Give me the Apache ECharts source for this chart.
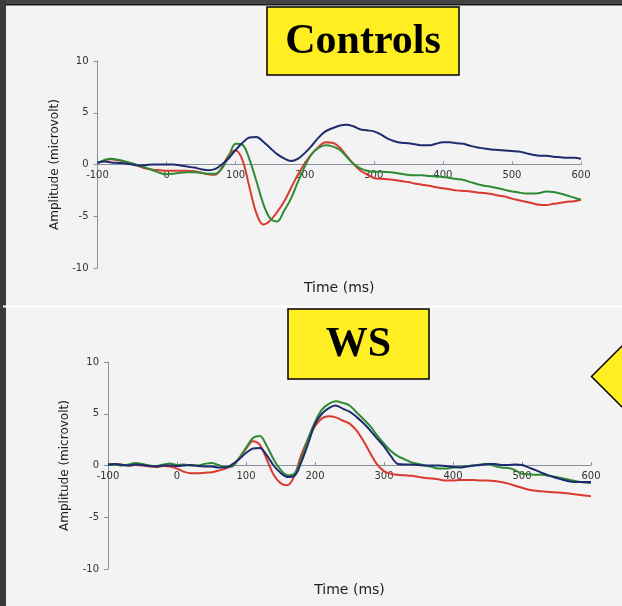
<!DOCTYPE html>
<html>
<head>
<meta charset="utf-8">
<script src="https://cdn.jsdelivr.net/npm/echarts@6/dist/echarts.min.js"></script>
<style>
html,body{margin:0;padding:0;background:#f3f3f3;}
#chart{width:622px;height:606px;}
</style>
</head>
<body>
<div id="chart"></div>
<script>
// Time axis (ms), sampled every 10 ms
var times = [];
for (var tt = -100; tt <= 600; tt += 10) times.push(tt);

var xTicks = [-100, 0, 100, 200, 300, 400, 500, 600];
var yTicks = [-10, -5, 0, 5, 10];

var titleTop = 'Controls';
var titleBottom = 'WS';
var xTitle = 'Time (ms)';
var yTitle = 'Amplitude (microvolt)';

// Controls
var ctlBlue = [0.2,0.3,0.2,0.15,0.1,0.0,-0.1,-0.05,0.0,0.0,
  0.0,0.0,-0.1,-0.2,-0.3,-0.45,-0.55,-0.45,0.0,0.6,
  1.4,2.1,2.6,2.65,2.2,1.6,1.0,0.6,0.35,0.55,
  1.1,1.8,2.6,3.2,3.5,3.75,3.85,3.7,3.4,3.3,
  3.2,2.9,2.5,2.25,2.1,2.05,1.95,1.85,1.85,2.0,
  2.15,2.15,2.05,2.0,1.8,1.65,1.55,1.45,1.4,1.35,
  1.3,1.25,1.1,0.95,0.85,0.85,0.75,0.7,0.65,0.65,0.55];
var ctlGreen = [0.1,0.45,0.55,0.45,0.3,0.1,-0.1,-0.3,-0.55,-0.8,
  -0.95,-0.9,-0.8,-0.75,-0.75,-0.8,-0.9,-0.9,-0.4,0.8,
  2.0,1.9,0.5,-1.6,-3.8,-5.2,-5.5,-4.5,-3.3,-1.7,
  -0.2,1.0,1.6,1.85,1.75,1.45,0.8,0.1,-0.35,-0.6,
  -0.7,-0.7,-0.72,-0.8,-0.9,-1.0,-1.05,-1.05,-1.1,-1.15,
  -1.2,-1.3,-1.4,-1.5,-1.7,-1.9,-2.05,-2.15,-2.3,-2.45,
  -2.6,-2.7,-2.8,-2.8,-2.75,-2.62,-2.65,-2.8,-3.0,-3.2,-3.4];
var ctlRed = [0.1,0.4,0.5,0.4,0.25,0.1,-0.15,-0.4,-0.5,-0.55,
  -0.6,-0.6,-0.6,-0.6,-0.65,-0.8,-0.95,-1.0,-0.3,0.9,
  1.35,0.4,-2.2,-4.7,-5.8,-5.4,-4.6,-3.6,-2.3,-1.0,
  0.1,1.0,1.7,2.15,2.1,1.7,0.9,0.1,-0.55,-0.95,
  -1.3,-1.38,-1.42,-1.5,-1.6,-1.7,-1.85,-1.95,-2.05,-2.2,
  -2.3,-2.4,-2.5,-2.55,-2.6,-2.7,-2.75,-2.85,-3.0,-3.1,
  -3.3,-3.45,-3.6,-3.75,-3.9,-3.92,-3.8,-3.7,-3.6,-3.55,-3.4];

// WS
var wsBlue = [0.1,0.15,0.05,0.0,0.1,0.05,-0.05,-0.1,0.0,0.0,
  -0.05,0.0,0.05,-0.05,-0.1,-0.1,-0.2,-0.2,0.1,0.6,
  1.2,1.65,1.7,1.0,0.0,-0.7,-1.1,-1.0,0.3,2.1,
  4.0,5.0,5.55,5.8,5.5,5.2,4.7,4.1,3.4,2.6,
  1.85,0.9,0.15,0.1,0.1,0.05,0.0,0.0,0.0,-0.05,
  -0.15,-0.2,-0.1,0.0,0.05,0.15,0.15,0.05,0.05,0.1,
  0.05,-0.2,-0.45,-0.75,-1.0,-1.2,-1.4,-1.55,-1.6,-1.6,-1.6];
var wsGreen = [0.05,0.1,0.0,0.1,0.25,0.15,0.0,-0.05,0.1,0.2,
  0.05,0.1,0.0,0.0,0.15,0.25,0.05,-0.15,-0.1,0.7,
  1.7,2.65,2.85,1.9,0.6,-0.4,-0.95,-0.8,0.6,2.6,
  4.2,5.4,5.95,6.2,6.05,5.8,5.15,4.5,3.8,2.9,
  2.1,1.4,0.9,0.6,0.3,0.15,0.0,-0.15,-0.3,-0.3,
  -0.2,-0.15,-0.05,0.0,0.1,0.15,-0.05,-0.2,-0.25,-0.45,
  -0.8,-0.85,-0.9,-0.9,-1.0,-1.1,-1.25,-1.4,-1.55,-1.65,-1.7];
var wsRed = [0.1,0.15,0.1,0.0,0.05,0.0,-0.1,-0.15,-0.05,-0.1,
  -0.3,-0.6,-0.75,-0.75,-0.7,-0.65,-0.5,-0.3,0.0,0.7,
  1.6,2.35,2.0,0.6,-0.9,-1.7,-1.9,-1.0,1.0,2.6,
  3.8,4.55,4.75,4.65,4.35,4.05,3.4,2.4,1.2,0.1,
  -0.55,-0.8,-0.9,-0.95,-1.0,-1.1,-1.2,-1.25,-1.35,-1.45,
  -1.45,-1.4,-1.4,-1.4,-1.45,-1.45,-1.5,-1.6,-1.75,-1.95,
  -2.15,-2.35,-2.45,-2.5,-2.55,-2.6,-2.65,-2.72,-2.8,-2.9,-2.96];

var colBlue = '#1d2c6e', colRed = '#d9392f', colGreen = '#2f8a35';

function pairs(vals){ return times.map(function(t,i){ return [t, vals[i]]; }); }

var axisCol = '#8a8fa0';
var labelFont = {color:'#333', fontSize:10, fontFamily:'DejaVu Sans'};

function xAx(idx, off, gap){
  return {
    type:'value', gridIndex:idx, min:xTicks[0], max:xTicks[xTicks.length-1], interval:100,
    position:'bottom', offset:off,
    axisLine:{onZero:false, lineStyle:{color:axisCol, width:1}},
    axisTick:{show:true, inside:true, length:3, lineStyle:{color:axisCol}},
    axisLabel:Object.assign({margin:6}, labelFont),
    splitLine:{show:false},
    name:xTitle, nameLocation:'middle', nameGap:gap,
    nameTextStyle:{color:'#222', fontSize:14, fontFamily:'DejaVu Sans'}
  };
}
function yAx(idx, gap){
  return {
    type:'value', gridIndex:idx, min:yTicks[0], max:yTicks[yTicks.length-1], interval:5,
    axisLine:{show:true, onZero:false, lineStyle:{color:axisCol, width:1}},
    axisTick:{show:true, inside:false, length:4, lineStyle:{color:axisCol}},
    axisLabel:Object.assign({margin:9}, labelFont),
    splitLine:{show:false},
    name:yTitle, nameLocation:'middle', nameGap:gap, nameRotate:90,
    nameTextStyle:{color:'#222', fontSize:12, fontFamily:'DejaVu Sans'}
  };
}
function line(name, vals, color, xi){
  return {name:name, type:'line', xAxisIndex:xi, yAxisIndex:xi, data:pairs(vals),
    showSymbol:false, smooth:0.35, lineStyle:{color:color, width:2}, itemStyle:{color:color}, z:3};
}

var chart = echarts.init(document.getElementById('chart'), null, {renderer:'canvas'});
chart.setOption({
  animation:false,
  backgroundColor:'#f3f3f3',
  grid:[
    {left:97.5, top:61, width:483.5, height:207, outerBoundsMode:'none', containLabel:false},
    {left:108, top:362, width:483, height:207, outerBoundsMode:'none', containLabel:false}
  ],
  xAxis:[xAx(0, -103.5, 116.5), xAx(1, -104, 118)],
  yAxis:[yAx(0, 36), yAx(1, 37)],
  series:[
    line('Controls red', ctlRed, colRed, 0),
    line('Controls green', ctlGreen, colGreen, 0),
    line('Controls blue', ctlBlue, colBlue, 0),
    line('WS red', wsRed, colRed, 1),
    line('WS green', wsGreen, colGreen, 1),
    line('WS blue', wsBlue, colBlue, 1)
  ],
  graphic:[
    {type:'rect', shape:{x:0,y:0,width:622,height:5}, style:{fill:'#444'}, z:10},
    {type:'rect', shape:{x:0,y:4,width:622,height:1.5}, style:{fill:'#1a1a1a'}, z:10},
    {type:'rect', shape:{x:0,y:0,width:6,height:606}, style:{fill:'#3a3a3a'}, z:10},
    {type:'rect', shape:{x:3,y:305.5,width:619,height:2}, style:{fill:'#ffffff'}, z:10},
    {type:'rect', shape:{x:267,y:7,width:192,height:68}, style:{fill:'#ffee22', stroke:'#000', lineWidth:1.5}, z:10},
    {type:'text', x:363, y:42, style:{text:titleTop, fill:'#000', font:'bold 42px "Liberation Serif"', textAlign:'center', textVerticalAlign:'middle'}, z:11},
    {type:'rect', shape:{x:288,y:309,width:141,height:70}, style:{fill:'#ffee22', stroke:'#000', lineWidth:1.5}, z:10},
    {type:'text', x:358.5, y:345, style:{text:titleBottom, fill:'#000', font:'bold 42px "Liberation Serif"', textAlign:'center', textVerticalAlign:'middle'}, z:11},
    {type:'polygon', shape:{points:[[591.5,376.5],[622,346],[652,376.5],[622,407]]}, style:{fill:'#ffee22', stroke:'#000', lineWidth:1.5}, z:10}
  ]
});
</script>
</body>
</html>
